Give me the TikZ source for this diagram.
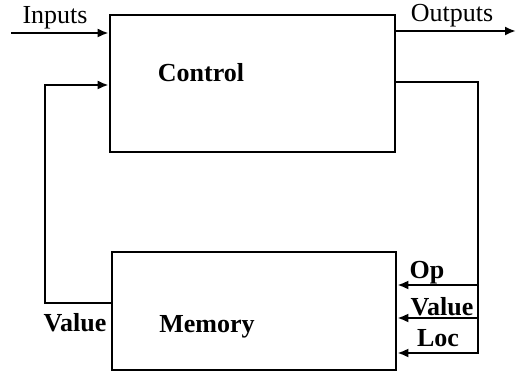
\documentclass[tikz,border=0pt]{standalone}
\usepackage{fontspec}
\setmainfont{Liberation Serif}
\usetikzlibrary{arrows.meta}

\begin{document}
\begin{tikzpicture}[x=0.5pt, y=-0.5pt, line width=1.3pt, font=\fontsize{13}{15}\selectfont,
		blk/.style={draw, inner sep=0pt},
		lbl/.style={inner sep=0pt, font=\fontsize{13}{15}\selectfont\bfseries},
		a/.style={-{Latex[length=5.5pt, width=4.5pt]}}]
		\useasboundingbox (0,0) rectangle (517,373);

		% the two units
		\node[blk, minimum width=142.5pt, minimum height=68.5pt] (ctl) at (252.5,83.5) {};
		\node[blk, minimum width=142pt, minimum height=59pt] (mem) at (254,311) {};
		\node[lbl] (ctltxt) at (201,73) {Control};
		\node[lbl] (memtxt) at (207,327) {Memory};

		% free ends and bends
		\coordinate (in) at (11,33);
		\coordinate (out) at (516,31);
		\coordinate (fb) at (45,303);
		\coordinate (fbin) at (45,85);
		\coordinate (bus) at (478,82);
		\coordinate (op) at (478,285);
		\coordinate (val) at (478,318);
		\coordinate (loc) at (478,353);

		% inputs and outputs
		\path[a] (in) edge (in -| ctl.west);
		\path[a] (out -| ctl.east) edge (out);
		\node[inner sep=0pt] (intxt) at (55,18) {Inputs};
		\node[inner sep=0pt] (outtxt) at (452,16) {Outputs};

		% value read back from memory
		\draw[a] (fb -| mem.west) -- (fb) -- (fbin) -- (fbin -| ctl.west);
		\node[lbl] (rdtxt) at (75,323) {Value};

		% op, value and loc sent to memory
		\draw[a] (bus -| ctl.east) -- (bus) -- (loc) -- (loc -| mem.east);
		\path[a] (op) edge (op -| mem.east);
		\path[a] (val) edge (val -| mem.east);
		\node[lbl] (optxt) at (427,273) {Op};
		\node[lbl] (valtxt) at (442,307) {Value};
		\node[lbl] (loctxt) at (438,338) {Loc};
	\end{tikzpicture}
\end{document}
